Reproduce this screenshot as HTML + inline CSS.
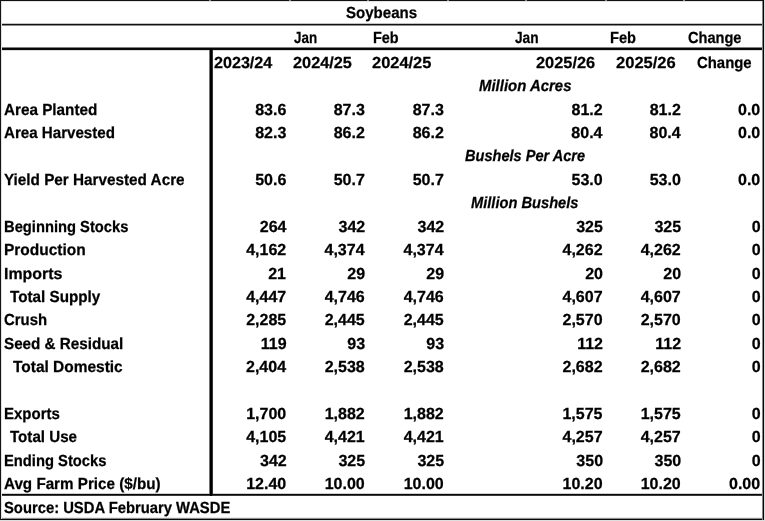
<!DOCTYPE html>
<html><head><meta charset="utf-8"><title>Soybeans</title><style>
html,body{margin:0;padding:0;background:#fff}
#w{position:relative;width:765px;height:521px;overflow:hidden;background:#fff;will-change:transform}
.t{position:absolute;white-space:nowrap;font-family:"Liberation Sans",Arial,sans-serif;font-weight:bold;font-size:16px;line-height:1;color:#000;text-rendering:geometricPrecision;transform-origin:0 0;-webkit-text-stroke:0.25px #000}
.i{font-style:italic}
.ln{position:absolute}
</style></head><body><div id="w">
<div class="ln" style="left:0px;top:0px;width:764px;height:1px;background:#111"></div>
<div class="ln" style="left:209px;top:0px;width:2px;height:1px;background:#8a8a8a"></div>
<div class="ln" style="left:289px;top:0px;width:2px;height:1px;background:#8a8a8a"></div>
<div class="ln" style="left:367px;top:0px;width:2px;height:1px;background:#8a8a8a"></div>
<div class="ln" style="left:447px;top:0px;width:2px;height:1px;background:#8a8a8a"></div>
<div class="ln" style="left:525px;top:0px;width:2px;height:1px;background:#8a8a8a"></div>
<div class="ln" style="left:605px;top:0px;width:2px;height:1px;background:#8a8a8a"></div>
<div class="ln" style="left:683px;top:0px;width:2px;height:1px;background:#8a8a8a"></div>
<div class="ln" style="left:0px;top:1px;width:764px;height:1px;background:#e4e4e4"></div>
<div class="ln" style="left:1px;top:23px;width:762px;height:1px;background:#c4c4c4"></div>
<div class="ln" style="left:1px;top:24px;width:762px;height:1px;background:#111"></div>
<div class="ln" style="left:1px;top:25px;width:762px;height:1px;background:#8c8c8c"></div>
<div class="ln" style="left:1px;top:47px;width:762px;height:1px;background:#808080"></div>
<div class="ln" style="left:1px;top:48px;width:762px;height:1px;background:#050505"></div>
<div class="ln" style="left:1px;top:49px;width:762px;height:1px;background:#0a0a0a"></div>
<div class="ln" style="left:1px;top:50px;width:762px;height:1px;background:#dcdcdc"></div>
<div class="ln" style="left:1px;top:493px;width:762px;height:1px;background:#d0d0d0"></div>
<div class="ln" style="left:1px;top:494px;width:762px;height:1px;background:#080808"></div>
<div class="ln" style="left:1px;top:495px;width:762px;height:1px;background:#3a3a3a"></div>
<div class="ln" style="left:1px;top:517px;width:762px;height:1px;background:#ececec"></div>
<div class="ln" style="left:1px;top:518px;width:762px;height:1px;background:#8c8c8c"></div>
<div class="ln" style="left:1px;top:519px;width:762px;height:1px;background:#060606"></div>
<div class="ln" style="left:0px;top:520px;width:765px;height:1px;background:#dedede"></div>
<div class="ln" style="left:0px;top:0px;width:1px;height:520px;background:#151515"></div>
<div class="ln" style="left:1px;top:2px;width:1px;height:517px;background:#e2e2e2"></div>
<div class="ln" style="left:762px;top:1px;width:1px;height:519px;background:#858585"></div>
<div class="ln" style="left:763px;top:0px;width:1px;height:520px;background:#050505"></div>
<div class="ln" style="left:764px;top:0px;width:1px;height:521px;background:#dadada"></div>
<div class="ln" style="left:209px;top:50px;width:1px;height:444px;background:#737373"></div>
<div class="ln" style="left:210px;top:48px;width:1px;height:448px;background:#000"></div>
<div class="ln" style="left:211px;top:48px;width:1px;height:448px;background:#000"></div>
<div class="ln" style="left:212px;top:50px;width:1px;height:444px;background:#333"></div>
<div class="t" style="left:3.70px;top:103px;transform:scaleX(0.9541)">Area Planted</div>
<div class="t" style="left:3.91px;top:126px;transform:scaleX(0.9452)">Area Harvested</div>
<div class="t" style="left:3.93px;top:173px;transform:scaleX(0.9548)">Yield Per Harvested Acre</div>
<div class="t" style="left:3.66px;top:220px;transform:scaleX(0.9202)">Beginning Stocks</div>
<div class="t" style="left:3.62px;top:243px;transform:scaleX(0.9674)">Production</div>
<div class="t" style="left:3.59px;top:267px;transform:scaleX(0.9941)">Imports</div>
<div class="t" style="left:9.94px;top:290px;transform:scaleX(0.9520)">Total Supply</div>
<div class="t" style="left:3.76px;top:313px;transform:scaleX(0.9306)">Crush</div>
<div class="t" style="left:3.77px;top:337px;transform:scaleX(0.9511)">Seed &amp; Residual</div>
<div class="t" style="left:13.14px;top:360px;transform:scaleX(0.9664)">Total Domestic</div>
<div class="t" style="left:3.64px;top:407px;transform:scaleX(0.9376)">Exports</div>
<div class="t" style="left:9.94px;top:430px;transform:scaleX(0.9453)">Total Use</div>
<div class="t" style="left:3.66px;top:454px;transform:scaleX(0.9219)">Ending Stocks</div>
<div class="t" style="left:4.00px;top:477px;transform:scaleX(0.9502)">Avg Farm Price ($/bu)</div>
<div class="t" style="left:255.18px;top:103px">83.6</div>
<div class="t" style="left:333.68px;top:103px">87.3</div>
<div class="t" style="left:412.68px;top:103px">87.3</div>
<div class="t" style="left:571.49px;top:103px">81.2</div>
<div class="t" style="left:649.69px;top:103px">81.2</div>
<div class="t" style="left:737.99px;top:103px">0.0</div>
<div class="t" style="left:255.18px;top:126px">82.3</div>
<div class="t" style="left:333.69px;top:126px">86.2</div>
<div class="t" style="left:412.69px;top:126px">86.2</div>
<div class="t" style="left:571.33px;top:126px">80.4</div>
<div class="t" style="left:649.53px;top:126px">80.4</div>
<div class="t" style="left:737.99px;top:126px">0.0</div>
<div class="t" style="left:255.18px;top:173px">50.6</div>
<div class="t" style="left:333.69px;top:173px">50.7</div>
<div class="t" style="left:412.69px;top:173px">50.7</div>
<div class="t" style="left:571.49px;top:173px">53.0</div>
<div class="t" style="left:649.69px;top:173px">53.0</div>
<div class="t" style="left:737.99px;top:173px">0.0</div>
<div class="t" style="left:259.74px;top:220px">264</div>
<div class="t" style="left:338.52px;top:220px">342</div>
<div class="t" style="left:417.52px;top:220px">342</div>
<div class="t" style="left:576.21px;top:220px">325</div>
<div class="t" style="left:654.41px;top:220px">325</div>
<div class="t" style="left:751.67px;top:220px">0</div>
<div class="t" style="left:246.19px;top:243px">4,162</div>
<div class="t" style="left:324.53px;top:243px">4,374</div>
<div class="t" style="left:403.53px;top:243px">4,374</div>
<div class="t" style="left:562.49px;top:243px">4,262</div>
<div class="t" style="left:640.69px;top:243px">4,262</div>
<div class="t" style="left:751.67px;top:243px">0</div>
<div class="t" style="left:268.19px;top:267px">21</div>
<div class="t" style="left:347.31px;top:267px">29</div>
<div class="t" style="left:426.31px;top:267px">29</div>
<div class="t" style="left:585.17px;top:267px">20</div>
<div class="t" style="left:663.37px;top:267px">20</div>
<div class="t" style="left:751.67px;top:267px">0</div>
<div class="t" style="left:246.19px;top:290px">4,447</div>
<div class="t" style="left:324.68px;top:290px">4,746</div>
<div class="t" style="left:403.68px;top:290px">4,746</div>
<div class="t" style="left:562.49px;top:290px">4,607</div>
<div class="t" style="left:640.69px;top:290px">4,607</div>
<div class="t" style="left:751.67px;top:290px">0</div>
<div class="t" style="left:246.16px;top:313px">2,285</div>
<div class="t" style="left:324.66px;top:313px">2,445</div>
<div class="t" style="left:403.66px;top:313px">2,445</div>
<div class="t" style="left:562.49px;top:313px">2,570</div>
<div class="t" style="left:640.69px;top:313px">2,570</div>
<div class="t" style="left:751.67px;top:313px">0</div>
<div class="t" style="left:260.81px;top:337px">119</div>
<div class="t" style="left:347.32px;top:337px">93</div>
<div class="t" style="left:426.32px;top:337px">93</div>
<div class="t" style="left:577.14px;top:337px">112</div>
<div class="t" style="left:655.34px;top:337px">112</div>
<div class="t" style="left:751.67px;top:337px">0</div>
<div class="t" style="left:246.03px;top:360px">2,404</div>
<div class="t" style="left:324.67px;top:360px">2,538</div>
<div class="t" style="left:403.67px;top:360px">2,538</div>
<div class="t" style="left:562.49px;top:360px">2,682</div>
<div class="t" style="left:640.69px;top:360px">2,682</div>
<div class="t" style="left:751.67px;top:360px">0</div>
<div class="t" style="left:246.19px;top:407px">1,700</div>
<div class="t" style="left:324.69px;top:407px">1,882</div>
<div class="t" style="left:403.69px;top:407px">1,882</div>
<div class="t" style="left:562.46px;top:407px">1,575</div>
<div class="t" style="left:640.66px;top:407px">1,575</div>
<div class="t" style="left:751.67px;top:407px">0</div>
<div class="t" style="left:246.16px;top:430px">4,105</div>
<div class="t" style="left:324.65px;top:430px">4,421</div>
<div class="t" style="left:403.65px;top:430px">4,421</div>
<div class="t" style="left:562.49px;top:430px">4,257</div>
<div class="t" style="left:640.69px;top:430px">4,257</div>
<div class="t" style="left:751.67px;top:430px">0</div>
<div class="t" style="left:260.02px;top:454px">342</div>
<div class="t" style="left:338.41px;top:454px">325</div>
<div class="t" style="left:417.41px;top:454px">325</div>
<div class="t" style="left:576.34px;top:454px">350</div>
<div class="t" style="left:654.54px;top:454px">350</div>
<div class="t" style="left:751.67px;top:454px">0</div>
<div class="t" style="left:246.19px;top:477px">12.40</div>
<div class="t" style="left:324.69px;top:477px">10.00</div>
<div class="t" style="left:403.69px;top:477px">10.00</div>
<div class="t" style="left:562.49px;top:477px">10.20</div>
<div class="t" style="left:640.69px;top:477px">10.20</div>
<div class="t" style="left:728.99px;top:477px">0.00</div>
<div class="t" style="left:346.37px;top:6px;transform:scaleX(0.9398)">Soybeans</div>
<div class="t" style="left:293.81px;top:31px;transform:scaleX(0.8361)">Jan</div>
<div class="t" style="left:372.58px;top:31px;transform:scaleX(0.9011)">Feb</div>
<div class="t" style="left:515.31px;top:31px;transform:scaleX(0.8546)">Jan</div>
<div class="t" style="left:609.97px;top:31px;transform:scaleX(0.9122)">Feb</div>
<div class="t" style="left:688.38px;top:31px;transform:scaleX(0.9108)">Change</div>
<div class="t" style="left:214.00px;top:56px;transform:scaleX(1.0075)">2023/24</div>
<div class="t" style="left:292.89px;top:56px;transform:scaleX(1.0190)">2024/25</div>
<div class="t" style="left:371.79px;top:56px;transform:scaleX(1.0259)">2024/25</div>
<div class="t" style="left:536.29px;top:56px;transform:scaleX(1.0226)">2025/26</div>
<div class="t" style="left:615.68px;top:56px;transform:scaleX(1.0332)">2025/26</div>
<div class="t" style="left:696.76px;top:56px;transform:scaleX(0.9316)">Change</div>
<div class="t i" style="left:479.01px;top:79px;transform:scaleX(0.9340)">Million Acres</div>
<div class="t i" style="left:465.41px;top:149px;transform:scaleX(0.9105)">Bushels Per Acre</div>
<div class="t i" style="left:471.41px;top:196px;transform:scaleX(0.9157)">Million Bushels</div>
<div class="t" style="left:3.98px;top:501px;transform:scaleX(0.9244)">Source: USDA February WASDE</div>
</div></body></html>
